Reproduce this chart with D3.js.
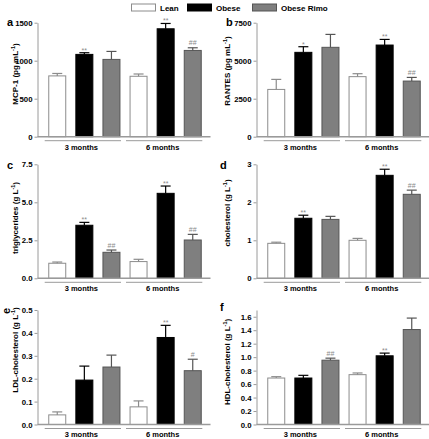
<!DOCTYPE html>
<html><head><meta charset="utf-8">
<script src="https://cdn.jsdelivr.net/npm/d3@7"></script>
<style>body{margin:0;background:#fff} svg{display:block}</style>
</head><body>
<svg id="chart" width="429" height="439"></svg>
<script>
const categories = ["3 months", "6 months"];
const series = ["Lean", "Obese", "Obese Rimo"];

// order: 3 months [Lean, Obese, Obese Rimo], 6 months [Lean, Obese, Obese Rimo]
const mcp1Mean  = [800, 1083, 1017, 795, 1420, 1135];
const mcp1Upper = [832, 1105, 1122, 825, 1490, 1170];
const mcp1Marks = ["", "**", "", "", "**", "##"];
const mcp1Ticks = [0, 500, 1000, 1500];

const rantesMean  = [3110, 5550, 5880, 3950, 6030, 3660];
const rantesUpper = [3770, 5920, 6730, 4145, 6400, 3900];
const rantesMarks = ["", "*", "", "", "**", "##"];
const rantesTicks = [0, 2500, 5000, 7500];

const trigMean  = [0.99, 3.49, 1.71, 1.10, 5.59, 2.52];
const trigUpper = [1.07, 3.68, 1.86, 1.25, 6.07, 2.89];
const trigMarks = ["", "**", "##", "", "**", "##"];
const trigTicks = [0, 2.5, 5.0, 7.5];

const cholMean  = [0.92, 1.58, 1.55, 1.00, 2.71, 2.21];
const cholUpper = [0.95, 1.66, 1.63, 1.05, 2.87, 2.32];
const cholMarks = ["", "**", "", "", "**", "##"];
const cholTicks = [0, 1, 2, 3];

const ldlMean  = [0.042, 0.194, 0.251, 0.077, 0.380, 0.235];
const ldlUpper = [0.055, 0.255, 0.303, 0.103, 0.433, 0.285];
const ldlMarks = ["", "", "", "", "**", "#"];
const ldlTicks = [0, 0.1, 0.2, 0.3, 0.4, 0.5];

const hdlMean  = [0.69, 0.69, 0.955, 0.74, 1.02, 1.41];
const hdlUpper = [0.71, 0.73, 0.985, 0.765, 1.06, 1.58];
const hdlMarks = ["", "", "##", "", "**", ""];
const hdlTicks = [0, 0.2, 0.4, 0.6, 0.8, 1.0, 1.2, 1.4, 1.6];

const FONT = "'Liberation Sans', Arial, Helvetica, sans-serif";
const fills   = {"Lean": "#ffffff", "Obese": "#000000", "Obese Rimo": "#7f7f7f"};
const strokes = {"Lean": "#8c8c8c", "Obese": "#000000", "Obese Rimo": "#555555"};
const AXIS = "#9a9a9a";

const panels = [
  {letter: "a", label: "MCP-1 (pg mL", mean: mcp1Mean, upper: mcp1Upper, marks: mcp1Marks, ticks: mcp1Ticks, max: 1500, fmt: d3.format("d"),
   ax: 37.5, top: 22.7, bot: 136.7, lx: 18, ly: 74, letX: 7, letY: 25.5},
  {letter: "b", label: "RANTES (pg mL", mean: rantesMean, upper: rantesUpper, marks: rantesMarks, ticks: rantesTicks, max: 7500, fmt: d3.format("d"),
   ax: 256.5, top: 22.7, bot: 136.7, lx: 230, ly: 71, letX: 226, letY: 25.5},
  {letter: "c", label: "triglycerides (g L", mean: trigMean, upper: trigUpper, marks: trigMarks, ticks: trigTicks, max: 7.5, fmt: d3.format(".1f"),
   ax: 37.5, top: 164.3, bot: 278.3, lx: 18, ly: 218, letX: 7, letY: 169},
  {letter: "d", label: "cholesterol (g L", mean: cholMean, upper: cholUpper, marks: cholMarks, ticks: cholTicks, max: 3, fmt: d3.format("d"),
   ax: 256.5, top: 164.3, bot: 278.3, lx: 230, ly: 213, letX: 220, letY: 169},
  {letter: "e", label: "LDL-cholesterol (g L", mean: ldlMean, upper: ldlUpper, marks: ldlMarks, ticks: ldlTicks, max: 0.5, fmt: d3.format(".1f"),
   ax: 37.5, top: 310, bot: 424.5, lx: 18, ly: 350, letX: 10, letY: 311, rotLetter: true},
  {letter: "f", label: "HDL-cholesterol (g L", mean: hdlMean, upper: hdlUpper, marks: hdlMarks, ticks: hdlTicks, max: 1.7, fmt: d3.format(".1f"),
   ax: 256.5, top: 310, bot: 424.5, lx: 230, ly: 362, letX: 220, letY: 310.7}
];

const svg = d3.select("#chart").attr("font-family", FONT);

// legend
const legendPos = [131, 187, 252];
series.forEach((s, i) => {
  const g = svg.append("g").attr("transform", `translate(${legendPos[i]},3.5)`);
  g.append("rect").attr("x", 0.5).attr("y", 0.5).attr("width", 24).attr("height", 7)
    .attr("fill", fills[s]).attr("stroke", strokes[s]).attr("stroke-width", 1);
  g.append("text").attr("x", 29).attr("y", 7.5).attr("font-size", 8).attr("font-weight", "bold")
    .attr("fill", "#000").text(s);
});

panels.forEach(p => {
  const g = svg.append("g");
  const y = d3.scaleLinear().domain([0, p.max]).range([p.bot, p.top]);
  const x0 = d3.scaleBand().domain(categories).range([p.ax + 1, p.ax + 174]).paddingInner(0).paddingOuter(0.064);
  const x1 = d3.scaleBand().domain(series).range([0, x0.bandwidth()]).paddingInner(0.336).paddingOuter(0.168);

  // y axis
  const yAxis = d3.axisLeft(y).tickValues(p.ticks).tickFormat(p.fmt).tickSize(3).tickSizeOuter(0).tickPadding(2);
  const ag = g.append("g").attr("transform", `translate(${p.ax},0)`).call(yAxis);
  ag.select(".domain").attr("stroke", AXIS).attr("stroke-width", 1);
  ag.selectAll(".tick line").attr("stroke", AXIS).attr("stroke-width", 1);
  ag.selectAll(".tick text").attr("font-family", FONT).attr("font-size", 7.8).attr("font-weight", "bold").attr("fill", "#000");

  // rows of data
  const rows = [];
  categories.forEach((c, ci) => series.forEach((s, si) => {
    const k = ci * 3 + si;
    rows.push({cat: c, ser: s, mean: p.mean[k], upper: p.upper[k], mark: p.marks[k]});
  }));

  // bars
  g.selectAll("rect.bar").data(rows).join("rect").attr("class", "bar")
    .attr("x", d => x0(d.cat) + x1(d.ser) + 0.5)
    .attr("y", d => y(d.mean))
    .attr("width", x1.bandwidth() - 1)
    .attr("height", d => y(0) - y(d.mean))
    .attr("fill", d => fills[d.ser]).attr("stroke", d => strokes[d.ser]).attr("stroke-width", 1);

  // error bars
  const cx = d => x0(d.cat) + x1(d.ser) + x1.bandwidth() / 2;
  g.selectAll("line.err").data(rows).join("line").attr("class", "err")
    .attr("x1", cx).attr("x2", cx)
    .attr("y1", d => y(d.mean)).attr("y2", d => y(d.upper))
    .attr("stroke", d => strokes[d.ser]).attr("stroke-width", 1.2);
  g.selectAll("line.cap").data(rows).join("line").attr("class", "cap")
    .attr("x1", d => cx(d) - 5).attr("x2", d => cx(d) + 5)
    .attr("y1", d => y(d.upper)).attr("y2", d => y(d.upper))
    .attr("stroke", d => strokes[d.ser]).attr("stroke-width", 1.2);

  // significance marks
  g.selectAll("text.mark").data(rows.filter(d => d.mark)).join("text").attr("class", "mark")
    .attr("x", cx).attr("y", d => y(d.upper) - (d.mark.includes("*") ? 0 : 2.5))
    .attr("text-anchor", "middle").attr("font-size", 7).attr("fill", "#8a8a8a").text(d => d.mark);

  // x baseline
  g.append("line").attr("x1", p.ax).attr("x2", p.ax + 173).attr("y1", y(0)).attr("y2", y(0))
    .attr("stroke", AXIS).attr("stroke-width", 1.5);

  // group underline + labels
  categories.forEach(c => {
    const xs = x0(c), bw = x0.bandwidth();
    g.append("line").attr("x1", xs + 1).attr("x2", xs + bw - 4)
      .attr("y1", y(0) + 4).attr("y2", y(0) + 4).attr("stroke", AXIS).attr("stroke-width", 1);
    g.append("text").attr("x", xs + bw / 2 - 3).attr("y", y(0) + 12.8)
      .attr("text-anchor", "middle").attr("font-size", 7.5).attr("font-weight", "bold").attr("fill", "#000").text(c);
  });

  // y label
  const t = g.append("text").attr("transform", `translate(${p.lx},${p.ly}) rotate(-90)`)
    .attr("text-anchor", "middle").attr("font-size", 8).attr("font-weight", "bold").attr("fill", "#000");
  t.append("tspan").text(p.label);
  t.append("tspan").attr("dy", -3).attr("font-size", 5.5).text("-1");
  t.append("tspan").attr("dy", 3).text(")");

  // panel letter
  const lt = g.append("text").attr("font-size", 11).attr("font-weight", "bold").attr("fill", "#000").text(p.letter);
  if (p.rotLetter) lt.attr("transform", `translate(${p.letX},${p.letY}) rotate(-90)`).attr("text-anchor", "middle");
  else lt.attr("x", p.letX).attr("y", p.letY);
});
</script>
</body></html>
